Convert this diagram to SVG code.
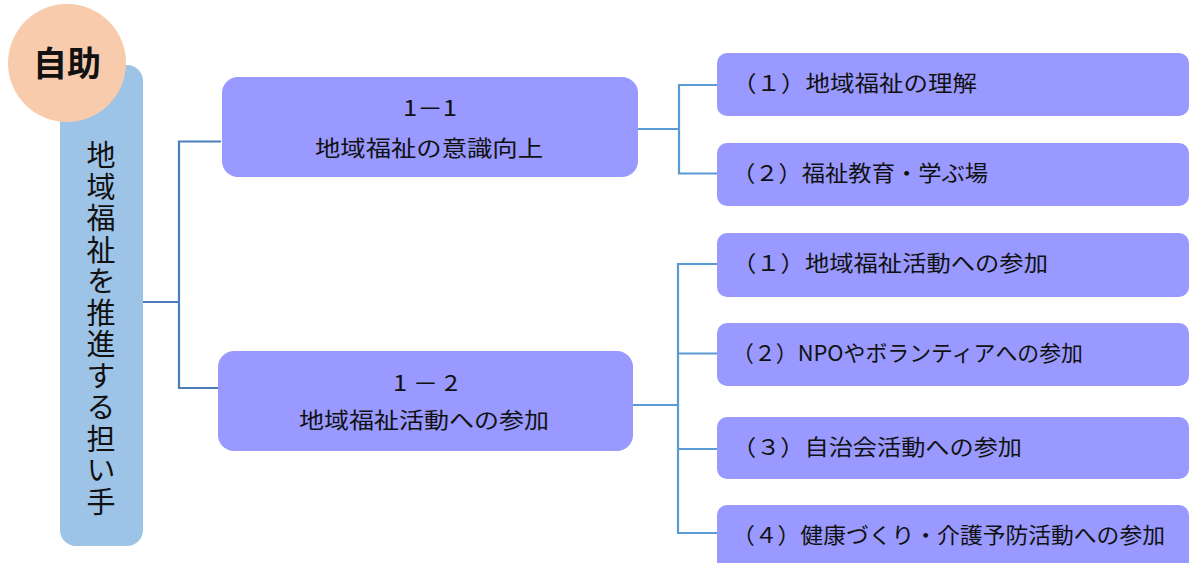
<svg xmlns="http://www.w3.org/2000/svg" width="1190" height="563" viewBox="0 0 1190 563">
<style>
  text { font-family: "Noto Sans CJK JP", "Noto Sans", sans-serif; fill: #111; }
  .mid { fill: #9999FF; }
  .leaf { fill: #9999FF; }
  .lt { font-size: 22px; }
  .mt { font-size: 22px; text-anchor: start; }
  .vt { font-size: 29px; writing-mode: vertical-rl; letter-spacing: 2.5px; }
  .c1 { fill: none; stroke: #4A7EBB; stroke-width: 2.2; }
  .c2 { fill: none; stroke: #5B9BD5; stroke-width: 2.2; }
</style>
<rect width="1190" height="563" fill="#FFFFFF"/>
<g id="connectors">
  <polyline class="c1" points="143,302 179,302"/>
  <polyline class="c1" points="221,141.5 179,141.5 179,388 219,388"/>
  <polyline class="c2" points="638,129 679,129"/>
  <polyline class="c2" points="718,85 679,85 679,173.5 718,173.5"/>
  <polyline class="c2" points="633,405 678,405"/>
  <polyline class="c2" points="718,264 678,264 678,533 718,533"/>
  <line class="c2" x1="678" y1="353.5" x2="718" y2="353.5"/>
  <line class="c2" x1="678" y1="449" x2="718" y2="449"/>
</g>
<g id="root">
  <rect x="60" y="65" width="83" height="481" rx="16" fill="#9DC3E6"/>
  <text class="vt" x="101" y="140.5">地域福祉を推進する担い手</text>
</g>
<g id="jijo">
  <circle cx="67" cy="63" r="59" fill="#F8CBAD"/>
  <text x="67" y="76" font-size="34" font-weight="bold" text-anchor="middle">自助</text>
</g>
<g id="n1-1">
  <rect class="mid" x="222" y="77" width="416" height="100" rx="16"/>
  <text class="mt" x="403" y="116" textLength="54" lengthAdjust="spacingAndGlyphs">1－1</text>
  <text class="mt" x="315" y="156" textLength="228" lengthAdjust="spacingAndGlyphs">地域福祉の意識向上</text>
</g>
<g id="n1-2">
  <rect class="mid" x="218" y="351" width="415" height="100" rx="16"/>
  <text class="mt" x="393" y="391" textLength="65" lengthAdjust="spacingAndGlyphs">1 － 2</text>
  <text class="mt" x="299" y="428" textLength="250" lengthAdjust="spacingAndGlyphs">地域福祉活動への参加</text>
</g>
<g id="n1-1-1">
  <rect class="leaf" x="717" y="53" width="472" height="63" rx="10"/>
  <text class="lt" x="732" y="91" textLength="245" lengthAdjust="spacingAndGlyphs">（１）地域福祉の理解</text>
</g>
<g id="n1-1-2">
  <rect class="leaf" x="717" y="143" width="472" height="63" rx="10"/>
  <text class="lt" x="732" y="181" textLength="256" lengthAdjust="spacingAndGlyphs">（２）福祉教育・学ぶ場</text>
</g>
<g id="n1-2-1">
  <rect class="leaf" x="717" y="233" width="472" height="64" rx="10"/>
  <text class="lt" x="732" y="271" textLength="316" lengthAdjust="spacingAndGlyphs">（１）地域福祉活動への参加</text>
</g>
<g id="n1-2-2">
  <rect class="leaf" x="717" y="323" width="472" height="63" rx="10"/>
  <text class="lt" x="732" y="361" textLength="351" lengthAdjust="spacingAndGlyphs">（２）NPOやボランティアへの参加</text>
</g>
<g id="n1-2-3">
  <rect class="leaf" x="717" y="417" width="472" height="62" rx="10"/>
  <text class="lt" x="732" y="455" textLength="290" lengthAdjust="spacingAndGlyphs">（３）自治会活動への参加</text>
</g>
<g id="n1-2-4">
  <rect class="leaf" x="717" y="505" width="472" height="70" rx="10"/>
  <text class="lt" x="732" y="543" textLength="433" lengthAdjust="spacingAndGlyphs">（４）健康づくり・介護予防活動への参加</text>
</g>
</svg>
